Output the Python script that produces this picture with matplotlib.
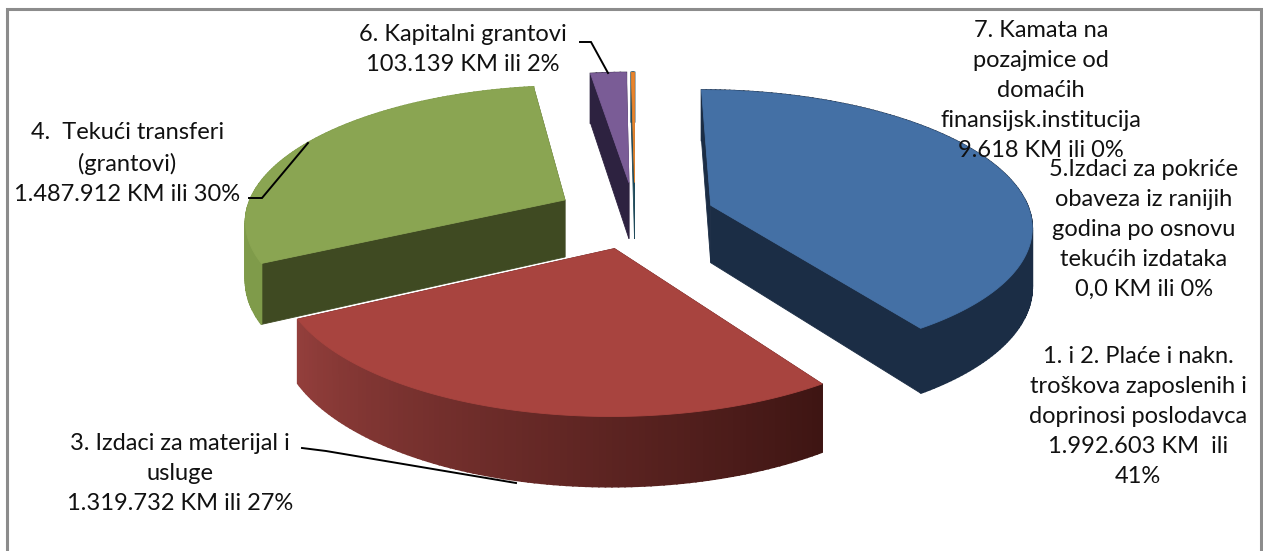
import numpy as np
import matplotlib
matplotlib.use("Agg")
import matplotlib.pyplot as plt
from matplotlib.colors import to_rgb
from matplotlib.patches import Polygon

# --- data -------------------------------------------------------------
categories = ["Plate", "Materijal", "Transferi", "Obaveze", "Kapitalni", "Kamata"]
values = [1992603, 1319732, 1487912, 0, 103139, 9618]
label_texts = [
    "1. i 2. Plaće i nakn.\ntroškova zaposlenih i\ndoprinosi poslodavca\n1.992.603 KM  ili\n41%",
    "3. Izdaci za materijal i\nusluge\n1.319.732 KM ili 27%",
    "4.  Tekući transferi\n(grantovi)\n1.487.912 KM ili 30%",
    "5.Izdaci za pokriće\nobaveza iz ranijih\ngodina po osnovu\ntekućih izdataka\n0,0 KM ili 0%",
    "6. Kapitalni grantovi\n103.139 KM ili 2%",
    "7. Kamata na\npozajmice od\ndomaćih\nfinansijsk.institucija\n9.618 KM ili 0%",
]

# --- style / layout ---------------------------------------------------
top_colors = ["#4470A5", "#A8443F", "#8AA552", "#7A7A7A", "#7A5C96", "#E8832B"]
inner_colors = ["#1B2D45", "#45191A", "#3F4A22", "#333333", "#2D2240", "#1F4A5A"]
wall_start = ["#1B2D45", "#3E1513", "#7F9B4A", "#333333", "#2D2240", "#1F4A5A"]
wall_end = ["#1B2D45", "#943F3C", "#7F9B4A", "#333333", "#2D2240", "#1F4A5A"]
draw_order = [4, 5, 0, 1, 2]
label_pos = [(1138, 416.5), (180, 473.5), (127.5, 163.5), (1144, 229.5), (463, 49.5), (1041, 90.5)]
leaders = [
    ([302, 326, 516], [448, 451, 483]),
    ([249, 262, 308], [198, 198, 143]),
    ([580, 591, 608], [42, 42, 73]),
]
CX, CY, A, K, P, EXPLODE, DEPTH = 635, 215, 320, 134, 0.14, 0.25, 58
W, H = 1263, 551

plt.rcParams["font.family"] = ["Lato", "DejaVu Sans"]
fig = plt.figure(figsize=(W / 100, H / 100), dpi=100)
ax = fig.add_axes([0, 0, 1, 1])
ax.set_xlim(0, W)
ax.set_ylim(H, 0)
ax.axis("off")


def project(x, y, z=0.0):
    w = 1 + P * y
    return CX + A * x / w, CY - K * y / w + z * DEPTH / w


def mix(c1, c2, t):
    a, b = np.array(to_rgb(c1)), np.array(to_rgb(c2))
    return tuple(a + (b - a) * t)


def poly(xs, ys, color, z, lw=0.6):
    ax.add_patch(Polygon(np.column_stack([xs, ys]), closed=True, fc=color,
                         ec=color, lw=lw, zorder=z))


fractions = np.array(values, dtype=float) / np.sum(values)
edges = np.concatenate([[0], np.cumsum(fractions)]) * 2 * np.pi

zbase = 1
for i in draw_order:
    t0, t1 = edges[i], edges[i + 1]
    mid = (t0 + t1) / 2
    ax0, ay0 = EXPLODE * np.sin(mid), EXPLODE * np.cos(mid)
    th = np.linspace(t0, t1, max(6, int((t1 - t0) * 60)))
    ox, oy = ax0 + np.sin(th), ay0 + np.cos(th)
    tx, ty = project(ox, oy)
    bx, by = project(ox, oy, 1)
    # radial walls first, the outer wall hides them where it is nearer
    apx, apy = project(ax0, ay0)
    abx, aby = project(ax0, ay0, 1)
    for k in (0, -1):
        poly([apx, tx[k], bx[k], abx], [apy, ty[k], by[k], aby], inner_colors[i], zbase)
    # outer wall, in strips so that it can carry the gradient
    for j in range(len(th) - 1):
        frac = (th[j] - t0) / (t1 - t0)
        poly([tx[j], tx[j + 1], bx[j + 1], bx[j]], [ty[j], ty[j + 1], by[j + 1], by[j]],
             mix(wall_start[i], wall_end[i], frac), zbase + 0.1, lw=1.2)
    # top
    poly(np.r_[apx, tx], np.r_[apy, ty], top_colors[i], zbase + 0.2)
    zbase += 1

for xs, ys in leaders:
    ax.plot(xs, ys, color="black", lw=1.4, zorder=20, solid_joinstyle="miter")

for txt, (x, y) in zip(label_texts, label_pos):
    ax.text(x, y, txt, ha="center", va="center", fontsize=17, color="#111111",
            linespacing=1.52, zorder=30)

# frame
ax.plot([7, 7, 1261, 1261], [H, 9, 9, H], color="#8C8C8C", lw=2.2, zorder=40,
        solid_joinstyle="miter")

fig.savefig("out.png", dpi=100, facecolor="white")
